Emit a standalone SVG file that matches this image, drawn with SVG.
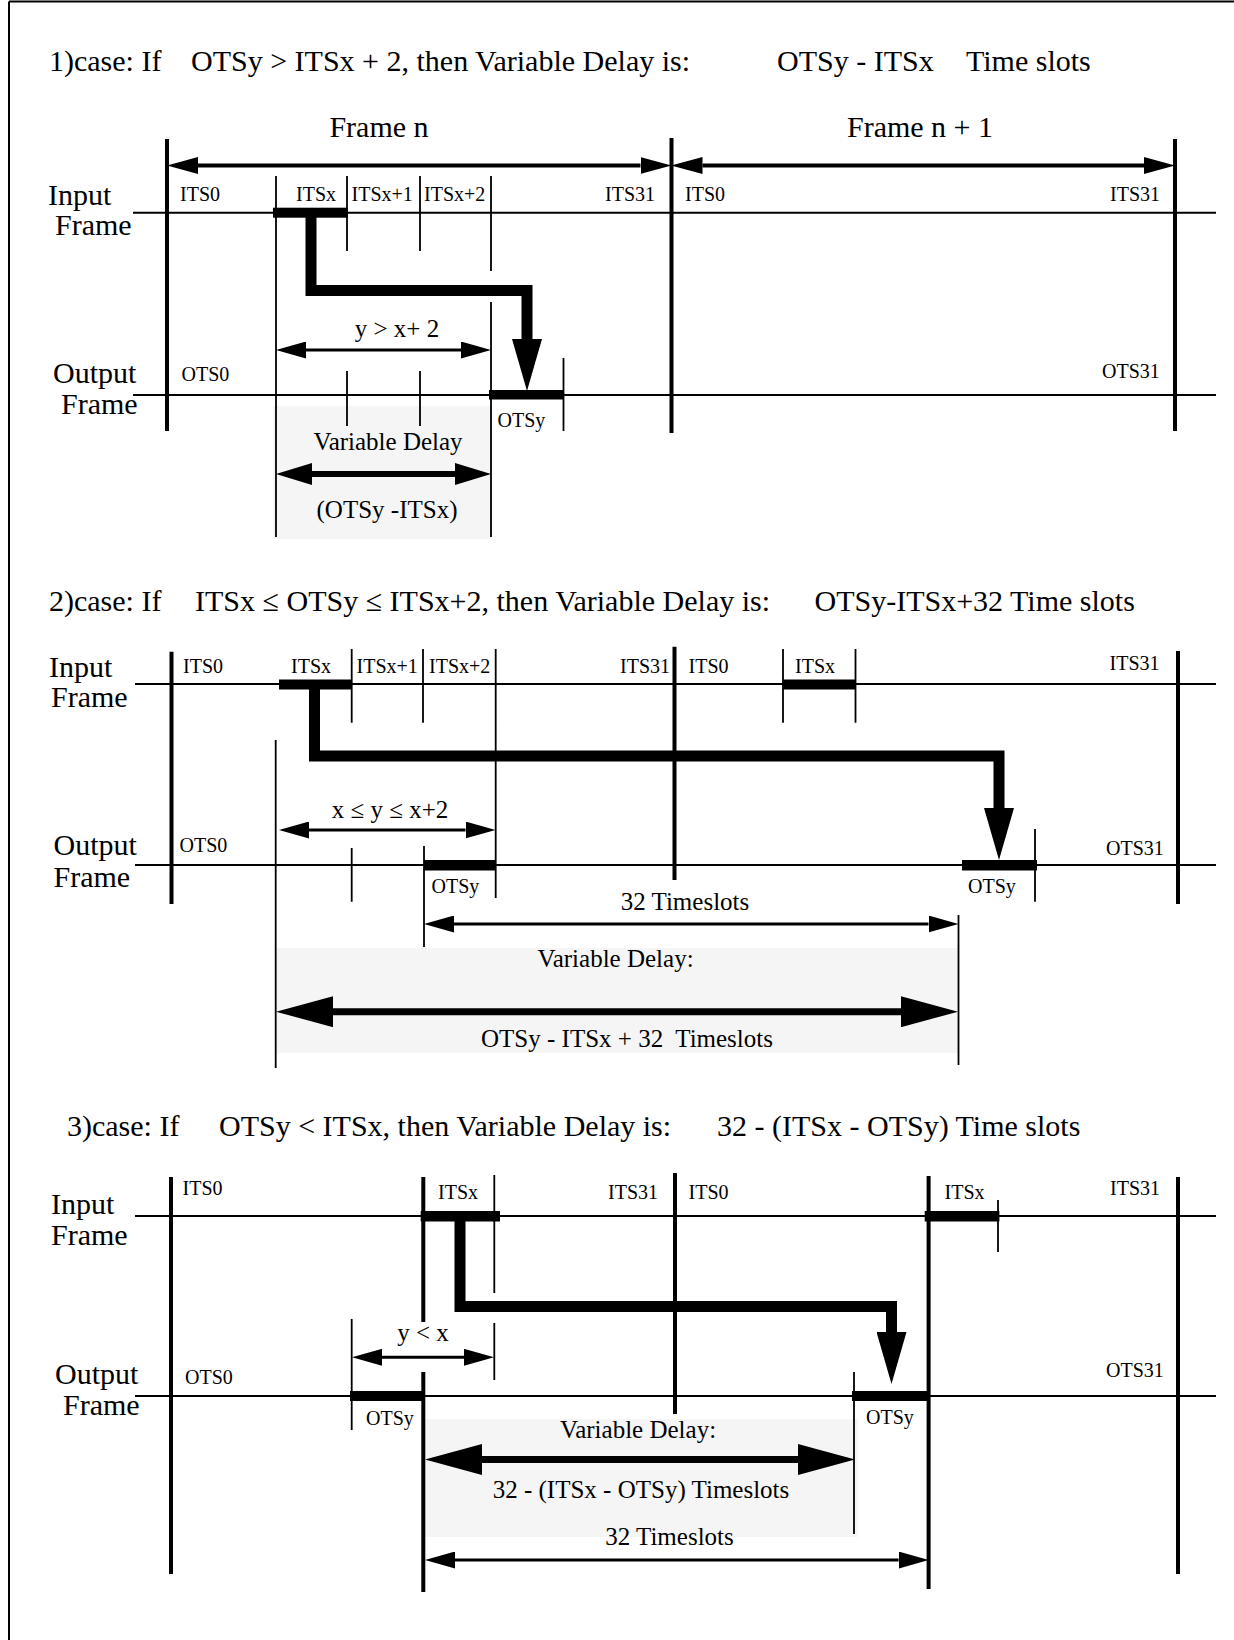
<svg xmlns="http://www.w3.org/2000/svg" width="1234" height="1640" viewBox="0 0 1234 1640">
<style>
text{font-family:"Liberation Serif","Times New Roman",serif;fill:#000}
.t30{font-size:30px}
.t25{font-size:25px}
.t20{font-size:20px}
.c{text-anchor:middle}
.fr{stroke:#000;stroke-width:4;fill:none}
.ln{stroke:#000;stroke-width:2;fill:none}
.tk{stroke:#000;stroke-width:1.8;fill:none}
.bar{fill:#000}
.shade{fill:#f5f5f5}
.conn{stroke:#000;stroke-width:11;fill:none;stroke-linejoin:miter}
.dim{stroke:#000;stroke-width:3;fill:none}
.top{stroke:#000;stroke-width:4;fill:none}
.big1{stroke:#000;stroke-width:6;fill:none}
.big{stroke:#000;stroke-width:7;fill:none}
</style>
<defs>
<marker id="m-dim" viewBox="0 -8.5 30 17" refX="0" refY="0" markerWidth="30" markerHeight="17" orient="auto-start-reverse" markerUnits="userSpaceOnUse"><path d="M0,-8.5 L30,0 L0,8.5z"/></marker>
<marker id="m-top" viewBox="0 -8.5 31 17" refX="0" refY="0" markerWidth="31" markerHeight="17" orient="auto-start-reverse" markerUnits="userSpaceOnUse"><path d="M0,-8.5 L31,0 L0,8.5z"/></marker>
<marker id="m-mid" viewBox="0 -11 36 22" refX="0" refY="0" markerWidth="36" markerHeight="22" orient="auto-start-reverse" markerUnits="userSpaceOnUse"><path d="M0,-11 L36,0 L0,11z"/></marker>
<marker id="m-big" viewBox="0 -15.5 57 31" refX="0" refY="0" markerWidth="57" markerHeight="31" orient="auto-start-reverse" markerUnits="userSpaceOnUse"><path d="M0,-15.5 L57,0 L0,15.5z"/></marker>
<marker id="m-conn" viewBox="0 -15 52 30" refX="0" refY="0" markerWidth="52" markerHeight="30" orient="auto" markerUnits="userSpaceOnUse"><path d="M0,-15 L52,0 L0,15z"/></marker>
</defs>

<path id="border" class="ln" d="M9,1.5 H1234 M9,1.5 V1640"/>

<!-- ============ CASE 1 ============ -->
<g id="case1">
  <g id="case1-title" class="t30">
    <text x="49" y="71">1)case: If</text>
    <text x="191" y="71">OTSy &gt; ITSx + 2, then Variable Delay is:</text>
    <text x="777" y="71">OTSy - ITSx</text>
    <text x="966" y="71">Time slots</text>
  </g>
  <rect id="case1-shade" class="shade" x="273" y="406" width="219" height="133"/>
  <g id="case1-labels" class="t30">
    <text x="48" y="205">Input</text>
    <text x="55" y="235">Frame</text>
    <text x="53" y="383">Output</text>
    <text x="61" y="414">Frame</text>
    <text class="c" x="379" y="137">Frame n</text>
    <text class="c" x="920" y="137">Frame n + 1</text>
  </g>
  <g id="case1-grid">
    <path class="fr" d="M167,139 V431 M671.5,138 V433 M1175,139 V431"/>
    <path class="ln" d="M133,212.7 H1216 M133,395 H1216"/>
    <path class="tk" d="M276,176 V537 M347,176 V251 M420,176 V251 M491,176 V271 M491,302 V537 M347,371 V426 M420,371 V426 M563.5,358 V431"/>
    <rect class="bar" x="273" y="207.7" width="75" height="10"/>
    <rect class="bar" x="489" y="390" width="75" height="9.5"/>
  </g>
  <g id="case1-slotlabels" class="t20">
    <text x="180" y="201">ITS0</text>
    <text x="296" y="201">ITSx</text>
    <text x="351.5" y="201">ITSx+1</text>
    <text x="424" y="201">ITSx+2</text>
    <text x="605" y="201">ITS31</text>
    <text x="685" y="201">ITS0</text>
    <text x="1110" y="201">ITS31</text>
    <text x="181.5" y="381">OTS0</text>
    <text x="1102" y="378">OTS31</text>
    <text x="497.5" y="427">OTSy</text>
  </g>
  <g id="case1-dims" class="t25">
    <text class="c" x="397" y="337">y &gt; x+ 2</text>
    <text class="c" x="388" y="450">Variable Delay</text>
    <text class="c" x="387" y="518">(OTSy -ITSx)</text>
  </g>
</g>

<!-- ============ CASE 2 ============ -->
<g id="case2">
  <g id="case2-title" class="t30">
    <text x="49" y="611">2)case: If</text>
    <text x="195" y="611">ITSx ≤ OTSy ≤ ITSx+2, then Variable Delay is:</text>
    <text x="814.5" y="611">OTSy-ITSx+32 Time slots</text>
  </g>
  <rect id="case2-shade" class="shade" x="275.5" y="948" width="682.5" height="105"/>
  <g id="case2-labels" class="t30">
    <text x="49" y="677">Input</text>
    <text x="51" y="707">Frame</text>
    <text x="53.5" y="855">Output</text>
    <text x="53.5" y="887">Frame</text>
  </g>
  <g id="case2-grid">
    <path class="fr" d="M171.5,651.7 V904 M674.5,646.7 V880 M1178,651 V904"/>
    <path class="ln" d="M135,684 H1216 M135,865 H1216"/>
    <path class="tk" d="M275.7,740 V1068 M351.7,649 V722.7 M423,649 V722.7 M495.7,649 V898 M783,649 V722.7 M855.5,649 V722.7 M351.7,848 V901.7 M424,846 V947 M1035,829 V901.7 M958.5,915 V1065"/>
    <rect class="bar" x="279" y="679.5" width="73" height="10"/>
    <rect class="bar" x="783" y="679.5" width="72.5" height="10"/>
    <rect class="bar" x="424" y="860" width="72" height="10.5"/>
    <rect class="bar" x="962" y="860" width="75" height="10.5"/>
  </g>
  <g id="case2-slotlabels" class="t20">
    <text x="183" y="673">ITS0</text>
    <text x="291" y="673">ITSx</text>
    <text x="356.5" y="673">ITSx+1</text>
    <text x="429" y="673">ITSx+2</text>
    <text x="620" y="673">ITS31</text>
    <text x="688.5" y="673">ITS0</text>
    <text x="795" y="673">ITSx</text>
    <text x="1109.5" y="670">ITS31</text>
    <text x="179.5" y="852">OTS0</text>
    <text x="1106" y="855">OTS31</text>
    <text x="431.5" y="893">OTSy</text>
    <text x="968" y="893">OTSy</text>
  </g>
  <g id="case2-dims" class="t25">
    <text class="c" x="390" y="818">x ≤ y ≤ x+2</text>
    <text class="c" x="685" y="910">32 Timeslots</text>
    <text class="c" x="615.5" y="967">Variable Delay:</text>
    <text class="c" x="627" y="1047" xml:space="preserve">OTSy - ITSx + 32  Timeslots</text>
  </g>
</g>

<!-- ============ CASE 3 ============ -->
<g id="case3">
  <g id="case3-title" class="t30">
    <text x="67" y="1136">3)case: If</text>
    <text x="219" y="1136">OTSy &lt; ITSx, then Variable Delay is:</text>
    <text x="717" y="1136">32 - (ITSx - OTSy) Time slots</text>
  </g>
  <rect id="case3-shade" class="shade" x="425" y="1419" width="433" height="118"/>
  <g id="case3-labels" class="t30">
    <text x="51" y="1214">Input</text>
    <text x="51" y="1245">Frame</text>
    <text x="55" y="1384">Output</text>
    <text x="63" y="1415">Frame</text>
  </g>
  <g id="case3-grid">
    <path class="fr" d="M171,1177 V1574 M675,1173 V1414 M1178,1177 V1574 M423.3,1177 V1322 M423.3,1372 V1592 M928.6,1176 V1589"/>
    <path class="ln" d="M135,1216 H1216 M135,1396 H1216"/>
    <path class="tk" d="M494.3,1175 V1293 M494.3,1323 V1380 M351.7,1319 V1430 M998,1200 V1252 M854,1372 V1534"/>
    <rect class="bar" x="420.7" y="1211" width="79.3" height="10.5"/>
    <rect class="bar" x="924.7" y="1211" width="74.7" height="10.5"/>
    <rect class="bar" x="350" y="1391" width="73.4" height="10"/>
    <rect class="bar" x="852" y="1391" width="76.6" height="10"/>
  </g>
  <g id="case3-slotlabels" class="t20">
    <text x="182.5" y="1195">ITS0</text>
    <text x="438" y="1199">ITSx</text>
    <text x="608" y="1199">ITS31</text>
    <text x="688.5" y="1199">ITS0</text>
    <text x="944.5" y="1199">ITSx</text>
    <text x="1110" y="1195">ITS31</text>
    <text x="185" y="1384">OTS0</text>
    <text x="1106" y="1377">OTS31</text>
    <text x="366" y="1424.5">OTSy</text>
    <text x="866" y="1424">OTSy</text>
  </g>
  <g id="case3-dims" class="t25">
    <text class="c" x="423" y="1341">y &lt; x</text>
    <text class="c" x="638" y="1438">Variable Delay:</text>
    <text class="c" x="641" y="1498">32 - (ITSx - OTSy) Timeslots</text>
    <text class="c" x="669.5" y="1545">32 Timeslots</text>
  </g>
</g>

<!-- ============ CONNECTORS ============ -->
<g id="connectors">
  <path class="top" d="M198,165.5 H640.5" marker-start="url(#m-top)" marker-end="url(#m-top)"/>
  <path class="top" d="M702.5,165.5 H1144" marker-start="url(#m-top)" marker-end="url(#m-top)"/>
  <path class="conn" d="M311,212.7 V290.5 H527 V339" marker-end="url(#m-conn)"/>
  <path class="dim" d="M306,350 H461" marker-start="url(#m-dim)" marker-end="url(#m-dim)"/>
  <path class="big1" d="M312,474 H455" marker-start="url(#m-mid)" marker-end="url(#m-mid)"/>

  <path class="conn" d="M314.5,684 V756 H999 V808" marker-end="url(#m-conn)"/>
  <path class="dim" d="M309,830 H465.5" marker-start="url(#m-dim)" marker-end="url(#m-dim)"/>
  <path class="dim" d="M454,924 H928.5" marker-start="url(#m-dim)" marker-end="url(#m-dim)"/>
  <path class="big" d="M333,1011.7 H901" marker-start="url(#m-big)" marker-end="url(#m-big)"/>

  <path class="conn" d="M460,1216 V1306.5 H891.5 V1332" marker-end="url(#m-conn)"/>
  <path class="dim" d="M382,1357.3 H464" marker-start="url(#m-dim)" marker-end="url(#m-dim)"/>
  <path class="big" d="M482,1459.5 H798" marker-start="url(#m-big)" marker-end="url(#m-big)"/>
  <path class="dim" d="M455,1560 H898.6" marker-start="url(#m-dim)" marker-end="url(#m-dim)"/>
</g>
</svg>
